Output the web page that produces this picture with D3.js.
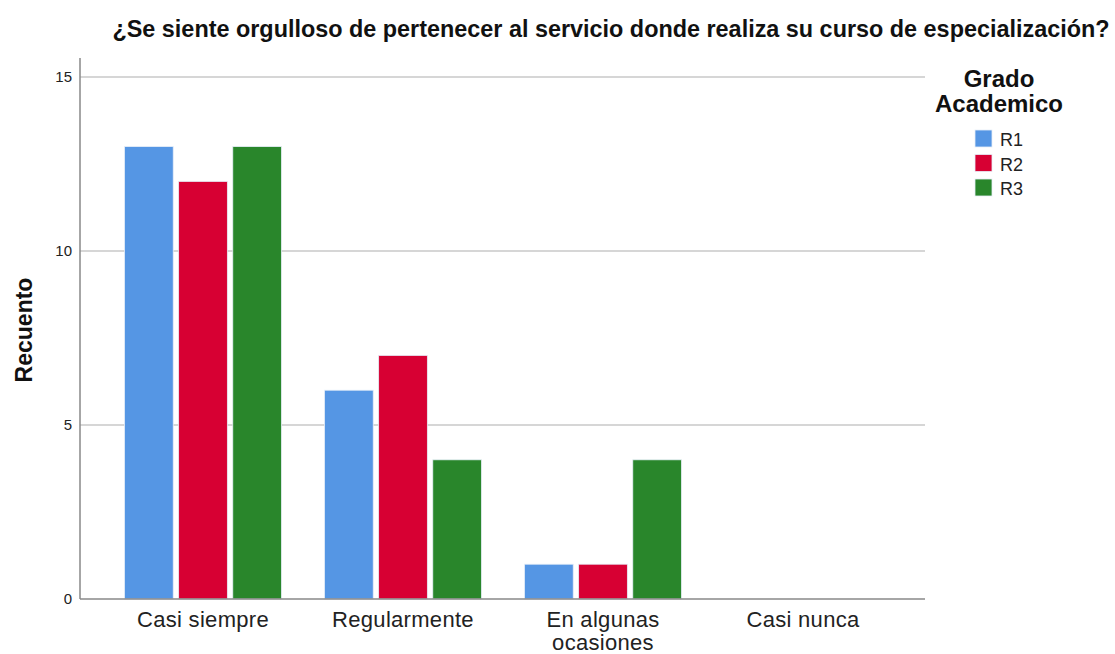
<!DOCTYPE html>
<html>
<head>
<meta charset="utf-8">
<script src="https://cdn.jsdelivr.net/npm/d3@7"></script>
<style>
  body { margin: 0; background: #fff; }
  svg { font-family: "Liberation Sans", Arial, sans-serif; }
</style>
</head>
<body>
<svg id="chart" width="1115" height="654"></svg>
<script>
const categories = ["Casi siempre", "Regularmente", "En algunas ocasiones", "Casi nunca"];
const categoryLines = [["Casi siempre"], ["Regularmente"], ["En algunas", "ocasiones"], ["Casi nunca"]];
const seriesNames = ["R1", "R2", "R3"];
const r1Values = [13, 6, 1, 0];
const r2Values = [12, 7, 1, 0];
const r3Values = [13, 4, 4, 0];
const yTicks = [0, 5, 10, 15];
const colours = { R1: "#5596e4", R2: "#d70033", R3: "#29862b" };

const series = { R1: r1Values, R2: r2Values, R3: r3Values };
const rows = categories.map((c, i) => ({
  category: c,
  values: seriesNames.map((s) => ({ key: s, value: series[s][i] })),
}));

const margins = { left: 80, top: 58 };
const svg = d3.select("#chart");
const plotRight = 925;
const plotBottom = 599;

const x = d3.scaleBand().domain(categories).range([103, 903]);
const x1 = d3.scaleBand().domain(seriesNames).range([21.5, 178.5]).paddingInner(0.1);
const y = d3.scaleLinear().domain([0, 15]).range([plotBottom, 77]);

// gridlines
svg.append("g")
  .selectAll("line")
  .data(yTicks.filter((d) => d > 0))
  .join("line")
  .attr("x1", margins.left)
  .attr("x2", plotRight)
  .attr("y1", (d) => y(d))
  .attr("y2", (d) => y(d))
  .style("stroke", "#c8c8c8")
  .style("stroke-width", 1.5);

// bars
const groups = svg.append("g")
  .selectAll("g.group")
  .data(rows)
  .join("g")
  .attr("class", "group")
  .attr("transform", (d) => `translate(${x(d.category)},0)`);

groups.selectAll("rect")
  .data((d) => d.values.filter((v) => v.value > 0))
  .join("rect")
  .attr("x", (d) => x1(d.key))
  .attr("y", (d) => y(d.value))
  .attr("width", x1.bandwidth())
  .attr("height", (d) => y(0) - y(d.value))
  .style("fill", (d) => colours[d.key])
  .style("stroke", "#e6eef8")
  .style("stroke-width", 0.8);

// axes
const yAxis = d3.axisLeft(y).tickValues(yTicks).tickSize(0).tickPadding(8);
const yG = svg.append("g").attr("transform", `translate(${margins.left},0)`).call(yAxis);
yG.select(".domain").remove();
yG.selectAll("text").style("font-size", "15px").style("fill", "#222");

svg.append("line")
  .attr("x1", margins.left).attr("x2", margins.left)
  .attr("y1", margins.top).attr("y2", plotBottom)
  .style("stroke", "#888").style("stroke-width", 1.5);
svg.append("line")
  .attr("x1", margins.left).attr("x2", plotRight)
  .attr("y1", plotBottom).attr("y2", plotBottom)
  .style("stroke", "#888").style("stroke-width", 1.5);

// x labels
const xLabels = svg.append("g")
  .selectAll("text")
  .data(categories)
  .join("text")
  .attr("y", 627)
  .attr("text-anchor", "middle")
  .style("font-size", "22px")
  .style("letter-spacing", "0.3px")
  .style("fill", "#222");
xLabels.each(function (d, i) {
  d3.select(this).selectAll("tspan")
    .data(categoryLines[i])
    .join("tspan")
    .attr("x", x(d) + x.bandwidth() / 2)
    .attr("dy", (t, j) => (j === 0 ? 0 : 22.5))
    .text((t) => t);
});

// y title
svg.append("text")
  .attr("transform", `translate(32,330) rotate(-90)`)
  .attr("text-anchor", "middle")
  .style("font-size", "23px")
  .style("font-weight", "bold")
  .style("fill", "#111")
  .text("Recuento");

// title
svg.append("text")
  .attr("x", 611)
  .attr("y", 37)
  .attr("text-anchor", "middle")
  .style("font-size", "23.4px")
  .style("font-weight", "bold")
  .style("fill", "#111")
  .text("¿Se siente orgulloso de pertenecer al servicio donde realiza su curso de especialización?");

// legend
const legend = svg.append("g").attr("transform", "translate(999,0)");
legend.append("text")
  .attr("text-anchor", "middle")
  .style("font-size", "24px")
  .style("font-weight", "bold")
  .style("fill", "#111")
  .selectAll("tspan")
  .data(["Grado", "Academico"])
  .join("tspan")
  .attr("x", 0)
  .attr("y", (d, i) => 87 + i * 25)
  .text((d) => d);

const items = legend.selectAll("g.item")
  .data(seriesNames)
  .join("g")
  .attr("class", "item")
  .attr("transform", (d, i) => `translate(-24,${130 + i * 24.5})`);
items.append("rect")
  .attr("width", 17).attr("height", 17)
  .style("fill", (d) => colours[d])
  .style("stroke", "#e6eef8").style("stroke-width", 0.8);
items.append("text")
  .attr("x", 25).attr("y", 16)
  .style("font-size", "18px")
  .style("fill", "#222")
  .text((d) => d);
</script>
</body>
</html>
